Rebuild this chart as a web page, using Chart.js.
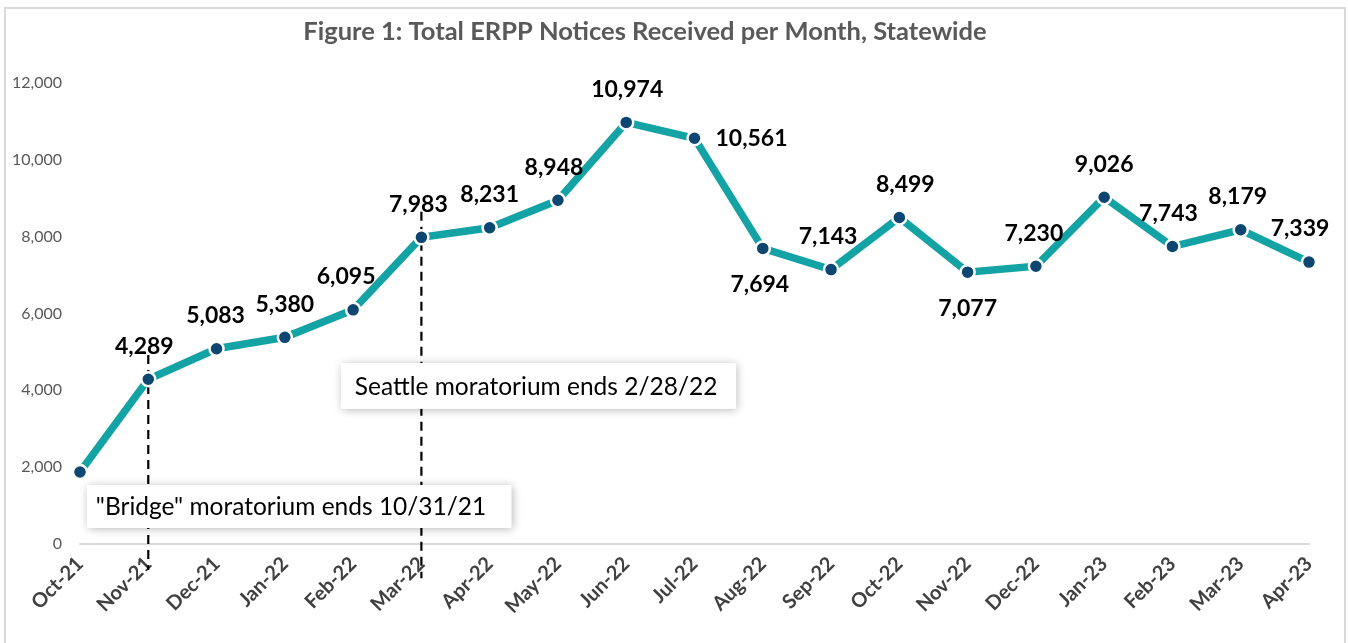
<!DOCTYPE html>
<html>
<head>
<meta charset="utf-8">
<script src="https://cdn.jsdelivr.net/npm/chart.js@4/dist/chart.umd.min.js"></script>
<style>
  html, body { margin: 0; padding: 0; background: #ffffff; }
  #wrap { position: relative; width: 1348px; height: 643px; }
</style>
</head>
<body>
<div id="wrap"><canvas id="c" width="1348" height="643"></canvas></div>
<script>
// ---- Data ----
const categories = ["Oct-21","Nov-21","Dec-21","Jan-22","Feb-22","Mar-22","Apr-22","May-22","Jun-22","Jul-22","Aug-22","Sep-22","Oct-22","Nov-22","Dec-22","Jan-23","Feb-23","Mar-23","Apr-23"];
const notices = [1875, 4289, 5083, 5380, 6095, 7983, 8231, 8948, 10974, 10561, 7694, 7143, 8499, 7077, 7230, 9026, 7743, 8179, 7339];
const yTickValues = [0, 2000, 4000, 6000, 8000, 10000, 12000];
const titleText = "Figure 1: Total ERPP Notices Received per Month, Statewide";
const annotationTexts = ["\"Bridge\" moratorium ends 10/31/21", "Seattle moratorium ends 2/28/22"];
const annotationCategories = ["Nov-21", "Mar-22"];

// ---- Label placement (style, not data) ----
const labelPlacement = [
  null, ['top',-4], ['top',-1], ['top',0], ['top',-7], ['top',-3], ['top',0], ['top',-4],
  ['top',1], ['right',0], ['bottom',-3], ['top',-3], ['top',6], ['bottom',0], ['top',-2],
  ['top',0], ['top',-4], ['top',-3], ['top',-9]
];

const fmt = v => v.toLocaleString('en-US');

const frame = {
  id: 'frame',
  beforeDraw(chart) {
    const ctx = chart.ctx;
    ctx.save();
    ctx.fillStyle = '#ffffff';
    ctx.fillRect(0, 0, chart.width, chart.height);
    ctx.strokeStyle = '#d9d9d9';
    ctx.lineWidth = 2;
    ctx.strokeRect(5, 8, chart.width - 8, chart.height + 20);
    // title
    ctx.fillStyle = '#595959';
    ctx.font = 'bold 25.5px Lato, "Noto Sans", sans-serif';
    ctx.textAlign = 'center';
    ctx.textBaseline = 'middle';
    ctx.fillText(titleText, 645, 32);
    ctx.restore();
  }
};

const annotations = {
  id: 'annotations',
  beforeDatasetsDraw(chart) {
    const ctx = chart.ctx;
    const xs = chart.scales.x, ys = chart.scales.y;
    ctx.save();
    // dashed vertical lines
    ctx.strokeStyle = '#000000';
    ctx.lineWidth = 2.2;
    ctx.setLineDash([9, 6]);
    const spans = [[4922, -680], [8646, -890]];
    annotationCategories.forEach((cat, i) => {
      const x = xs.getPixelForValue(categories.indexOf(cat));
      ctx.beginPath();
      ctx.moveTo(x, ys.getPixelForValue(spans[i][0]));
      ctx.lineTo(x, ys.getPixelForValue(spans[i][1]));
      ctx.stroke();
    });
    ctx.setLineDash([]);
    // boxes
    const boxes = [
      {x0: 0.1, x1: 6.32, y0: 1536, y1: 417, pad: 9},
      {x0: 3.82, x1: 9.61, y0: 4713, y1: 3516, pad: 14}
    ];
    ctx.font = '24.5px Lato, "Noto Sans", sans-serif';
    ctx.textBaseline = 'middle';
    ctx.textAlign = 'left';
    boxes.forEach((b, i) => {
      const l = xs.getPixelForValue(b.x0), r = xs.getPixelForValue(b.x1);
      const t = ys.getPixelForValue(b.y0), bt = ys.getPixelForValue(b.y1);
      ctx.save();
      ctx.shadowColor = 'rgba(0,0,0,0.3)';
      ctx.shadowBlur = 9;
      ctx.shadowOffsetX = 1;
      ctx.shadowOffsetY = 1;
      ctx.fillStyle = '#ffffff';
      ctx.fillRect(l, t, r - l, bt - t);
      ctx.restore();
      ctx.fillStyle = '#000000';
      ctx.fillText(annotationTexts[i], l + b.pad, (t + bt) / 2 + 1);
    });
    ctx.restore();
  }
};

const dataLabels = {
  id: 'dataLabels',
  afterDatasetsDraw(chart) {
    const ctx = chart.ctx;
    const meta = chart.getDatasetMeta(0);
    ctx.save();
    ctx.font = 'bold 23px Lato, "Noto Sans", sans-serif';
    ctx.fillStyle = '#000000';
    ctx.textBaseline = 'middle';
    ctx.textAlign = 'center';
    meta.data.forEach((pt, i) => {
      const p = labelPlacement[i];
      if (!p) return;
      let x = pt.x + p[1], y = pt.y;
      if (p[0] === 'top') y -= 33;
      else if (p[0] === 'bottom') y += 36;
      else if (p[0] === 'right') x += 57;
      ctx.fillText(fmt(notices[i]), x, y);
    });
    ctx.restore();
  }
};

new Chart(document.getElementById('c'), {
  type: 'line',
  data: {
    labels: categories,
    datasets: [{
      data: notices,
      borderColor: '#14a3a5',
      borderWidth: 7.5,
      pointRadius: 7,
      pointBackgroundColor: '#0d4670',
      pointBorderColor: '#ffffff',
      pointBorderWidth: 2.5,
      tension: 0,
      fill: false
    }]
  },
  options: {
    responsive: false,
    animation: false,
    devicePixelRatio: 1,
    layout: { padding: { left: 5, right: 39, top: 83, bottom: 0 } },
    plugins: { legend: { display: false }, tooltip: { enabled: false }, title: { display: false } },
    scales: {
      x: {
        offset: false,
        grid: { display: false, drawTicks: false },
        border: { display: true, color: '#d9d9d9', width: 2 },
        ticks: {
          minRotation: 45, maxRotation: 45, autoSkip: false, padding: 8,
          color: '#404040',
          font: { family: 'Lato, "Noto Sans", sans-serif', size: 20, weight: 'bold' }
        },
        afterFit(scale) { scale.height = 99; }
      },
      y: {
        min: 0, max: 12000,
        grid: { display: false, drawTicks: false },
        border: { display: false },
        afterBuildTicks(scale) { scale.ticks = yTickValues.map(v => ({ value: v })); },
        ticks: {
          padding: 18,
          color: '#595959',
          font: { family: 'Lato, "Noto Sans", sans-serif', size: 16 },
          callback: v => fmt(v)
        },
        afterFit(scale) { scale.width = 75; }
      }
    }
  },
  plugins: [frame, annotations, dataLabels]
});
</script>
</body>
</html>
